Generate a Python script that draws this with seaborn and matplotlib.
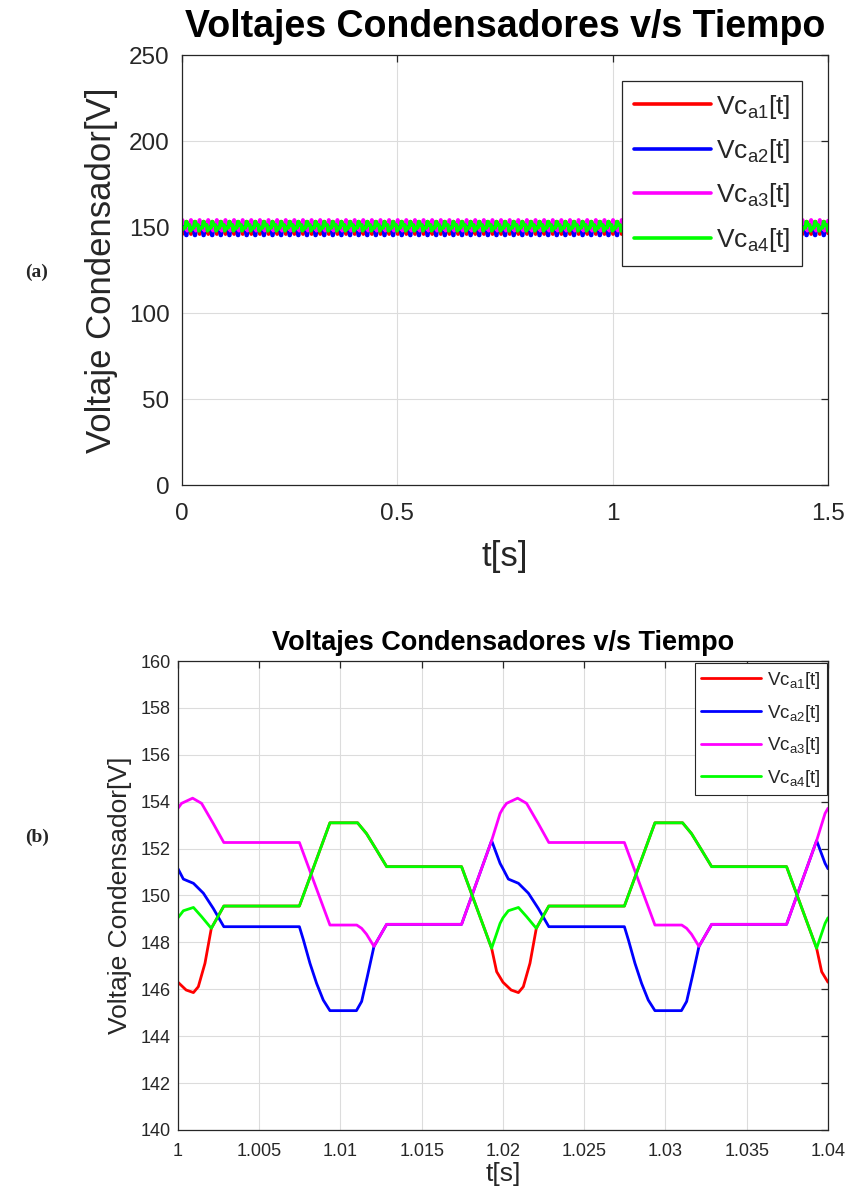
import numpy as np
import pandas as pd
import matplotlib
matplotlib.use("Agg")
import matplotlib.pyplot as plt
from matplotlib.ticker import FuncFormatter
import seaborn as sns

# one 20 ms period of each capacitor voltage (time offset in s, voltage in V)
period = 0.02
t_a1 = [0.0, 0.0005, 0.00095, 0.00125, 0.00166, 0.00205, 0.00282, 0.00747, 0.00935, 0.01105,
        0.0116, 0.01222, 0.01284, 0.01745, 0.0193, 0.01961, 0.02]
v_a1 = [146.3, 145.97, 145.86, 146.11, 147.11, 148.6, 149.55, 149.55, 153.1, 153.1,
        152.64, 151.94, 151.23, 151.23, 147.75, 146.75, 146.3]
t_a2 = [0.0, 0.00033, 0.00095, 0.00156, 0.00217, 0.00282, 0.00747, 0.00772, 0.00812, 0.00853,
        0.00894, 0.00935, 0.01098, 0.0113, 0.01165, 0.01206, 0.01284, 0.01745, 0.0193, 0.01982, 0.02]
v_a2 = [151.14, 150.7, 150.52, 150.1, 149.45, 148.67, 148.67, 148.1, 147.11, 146.25,
        145.54, 145.09, 145.09, 145.48, 146.54, 147.83, 148.77, 148.77, 152.34, 151.37, 151.14]
t_a3 = [0.0, 0.00022, 0.0009, 0.00145, 0.00217, 0.00282, 0.00747, 0.00935, 0.011, 0.0113,
        0.0116, 0.01206, 0.01284, 0.01745, 0.0193, 0.01982, 0.02]
v_a3 = [153.72, 153.93, 154.15, 153.93, 153.07, 152.26, 152.26, 148.74, 148.74, 148.6,
        148.35, 147.83, 148.77, 148.77, 152.34, 153.5, 153.72]
t_a4 = [0.0, 0.00033, 0.00095, 0.00145, 0.00205, 0.00282, 0.00747, 0.00935, 0.01105, 0.0116,
        0.01222, 0.01284, 0.01745, 0.0193, 0.01982, 0.02]
v_a4 = [149.05, 149.35, 149.49, 149.1, 148.6, 149.55, 149.55, 153.1, 153.1, 152.64,
        151.94, 151.23, 151.23, 147.75, 148.81, 149.05]

labels = [r"Vc$_{\mathregular{a1}}$[t]", r"Vc$_{\mathregular{a2}}$[t]",
          r"Vc$_{\mathregular{a3}}$[t]", r"Vc$_{\mathregular{a4}}$[t]"]
colors = ["#ff0000", "#0000ff", "#ff00ff", "#00ff00"]
series = [(t_a1, v_a1), (t_a2, v_a2), (t_a3, v_a3), (t_a4, v_a4)]


def repeat(t, v, t0, n):
    # same period drawn n times starting at t0
    tt = np.concatenate([np.array(t[:-1]) + t0 + k * period for k in range(n)] + [[t0 + n * period]])
    vv = np.concatenate([np.array(v[:-1]) for k in range(n)] + [[v[-1]]])
    return tt, vv


sns.set_style("white")
plt.rcParams["font.family"] = ["Liberation Sans", "DejaVu Sans"]
plt.rcParams["mathtext.default"] = "regular"

fig = plt.figure(figsize=(8.49, 11.99), dpi=100)
ax1 = fig.add_axes([182 / 849, 1 - 485 / 1199, 646 / 849, 430 / 1199])
ax2 = fig.add_axes([178 / 849, 1 - 1130 / 1199, 650 / 849, 469 / 1199])


def style(ax, fs, xpad, ypad):
    ax.grid(True, color="#dcdcdc", linewidth=0.8)
    ax.set_axisbelow(True)
    for s in ax.spines.values():
        s.set_color("#262626")
        s.set_linewidth(0.9)
    ax.tick_params(direction="in", top=True, right=True, labelsize=fs,
                   colors="#262626", length=5, width=0.9)
    ax.tick_params(axis="x", pad=xpad)
    ax.tick_params(axis="y", pad=ypad)


# (a) whole simulation
for (t, v), c, lab in zip(series, colors, labels):
    tt, vv = repeat(t, v, 0.0, 75)
    sns.lineplot(x=tt, y=vv, ax=ax1, color=c, linewidth=2.6, label=lab,
                 estimator=None, sort=False)
ax1.set_xlim(0, 1.5)
ax1.set_ylim(0, 250)
ax1.set_xticks([0, 0.5, 1, 1.5])
ax1.set_yticks(range(0, 251, 50))
ax1.xaxis.set_major_formatter(FuncFormatter(lambda x, p: "%g" % x))
style(ax1, 17.5, 13, 9)
ax1.set_title("Voltajes Condensadores v/s Tiempo", fontsize=27, fontweight="bold", pad=13,
              color="black")
ax1.set_xlabel("t[s]", fontsize=25, color="#262626", labelpad=11)
ax1.set_ylabel("Voltaje Condensador[V]", fontsize=25, color="#262626", labelpad=8)
leg = ax1.legend(loc="upper right", bbox_to_anchor=(0.96, 0.94), fontsize=19, frameon=True,
                 fancybox=False, edgecolor="#262626", framealpha=1, handlelength=2.9,
                 handletextpad=0.2, labelspacing=0.62, borderpad=0.45, borderaxespad=0)
leg.get_frame().set_linewidth(0.9)

# (b) zoom on two periods
for (t, v), c, lab in zip(series, colors, labels):
    tt, vv = repeat(t, v, 1.0, 2)
    sns.lineplot(x=tt, y=vv, ax=ax2, color=c, linewidth=2.0, label=lab,
                 estimator=None, sort=False)
ax2.set_xlim(1.0, 1.04)
ax2.set_ylim(140, 160)
ax2.set_xticks(np.arange(1.0, 1.0401, 0.005))
ax2.set_yticks(range(140, 161, 2))
ax2.xaxis.set_major_formatter(FuncFormatter(lambda x, p: "%g" % round(x, 3)))
style(ax2, 13, 9, 5)
ax2.set_title("Voltajes Condensadores v/s Tiempo", fontsize=19.5, fontweight="bold", pad=8,
              color="black")
ax2.set_xlabel("t[s]", fontsize=19, color="#262626", labelpad=2)
ax2.set_ylabel("Voltaje Condensador[V]", fontsize=19, color="#262626", labelpad=6)
leg2 = ax2.legend(loc="upper right", bbox_to_anchor=(0.998, 0.995), fontsize=13.5, frameon=True,
                  fancybox=False, edgecolor="#262626", framealpha=1, handlelength=3.2,
                  handletextpad=0.3, labelspacing=0.62, borderpad=0.35, borderaxespad=0)
leg2.get_frame().set_linewidth(0.8)

fig.text(25 / 849, 1 - 272 / 1199, "(a)", fontsize=14, fontweight="bold",
         family=["Liberation Serif"], va="center")
fig.text(25 / 849, 1 - 837 / 1199, "(b)", fontsize=14, fontweight="bold",
         family=["Liberation Serif"], va="center")

fig.savefig("out.png", dpi=100)
